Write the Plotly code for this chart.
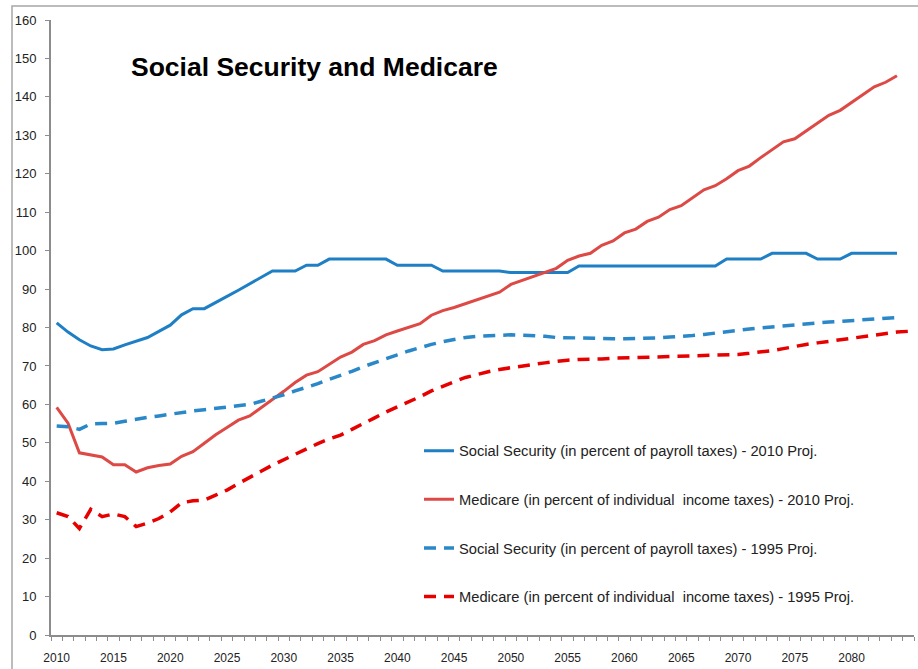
import plotly.graph_objects as go

years_main = list(range(2010, 2085))
years_med95 = list(range(2010, 2086))

ss_2010 = [81.2, 78.8, 76.8, 75.2, 74.2, 74.4, 75.5, 76.4, 77.4, 79.0,
           80.6, 83.3, 84.9, 84.9, 86.6, 88.1, 89.7, 91.3, 93.1, 94.7,
           94.7, 94.7, 96.2, 96.2,
           97.8, 97.8, 97.8, 97.8, 97.8, 97.8,
           96.2, 96.2, 96.2, 96.2,
           94.7, 94.7, 94.7, 94.7, 94.7, 94.7,
           94.3, 94.3, 94.3, 94.3, 94.3, 94.3,
           96.0, 96.0, 96.0, 96.0, 96.0, 96.0, 96.0, 96.0, 96.0, 96.0, 96.0, 96.0, 96.0,
           97.8, 97.8, 97.8, 97.8,
           99.3, 99.3, 99.3, 99.3,
           97.8, 97.8, 97.8,
           99.3, 99.3, 99.3, 99.3, 99.3]

med_2010 = [59.2, 55.1, 47.4, 46.9, 46.3, 44.3, 44.3, 42.4, 43.5, 44.1,
            44.5, 46.5, 47.7, 49.9, 52.1, 54.0, 55.9, 57.0, 59.1, 61.3,
            63.4, 65.7, 67.6, 68.5, 70.5, 72.3, 73.6, 75.6, 76.6, 78.1,
            79.1, 80.0, 81.0, 83.2, 84.4, 85.2, 86.2, 87.2, 88.2, 89.2,
            91.2, 92.2, 93.3, 94.3, 95.4, 97.5, 98.6, 99.3, 101.4, 102.5,
            104.6, 105.6, 107.6, 108.7, 110.7, 111.7, 113.8, 115.8, 116.9, 118.7,
            120.8, 122.0, 124.2, 126.2, 128.3, 129.1, 131.1, 133.1, 135.2, 136.5,
            138.5, 140.6, 142.6, 143.8, 145.5]

ss_1995 = [54.4, 54.2, 53.5, 54.9, 55.0, 55.1, 55.6, 56.2, 56.6, 57.0,
           57.5, 57.9, 58.3, 58.6, 58.9, 59.2, 59.6, 60.0, 60.8, 61.6,
           62.5, 63.5, 64.4, 65.4, 66.5, 67.5, 68.6, 69.8, 70.9, 71.9,
           72.9, 73.9, 74.8, 75.6, 76.3, 76.9, 77.4, 77.7, 77.9, 78.0,
           78.1, 78.0, 77.9, 77.7, 77.4, 77.3, 77.2, 77.1, 77.1, 77.1,
           77.1, 77.1, 77.1, 77.3, 77.5, 77.6, 77.9, 78.2, 78.6, 79.0,
           79.3, 79.6, 79.9, 80.2, 80.5, 80.8, 81.0, 81.2, 81.4, 81.6,
           81.8, 82.0, 82.2, 82.4, 82.6]

med_1995 = [31.8, 30.8, 27.7, 32.7, 30.8, 31.5, 30.8, 28.2, 29.1, 30.3,
            32.0, 34.4, 34.9, 35.1, 36.4, 37.7, 39.4, 40.9, 42.6, 44.2,
            45.6, 47.1, 48.4, 49.8, 51.0, 52.0, 53.5, 54.9, 56.5, 58.0,
            59.3, 60.6, 62.0, 63.5, 64.8, 65.9, 67.0, 67.8, 68.5, 69.1,
            69.6, 70.0, 70.4, 70.8, 71.2, 71.5, 71.7, 71.7, 71.8, 72.0,
            72.1, 72.1, 72.2, 72.4, 72.4, 72.4, 72.5, 72.6, 72.7, 72.9,
            73.0, 73.3, 73.6, 74.0, 74.5, 75.1, 75.6, 76.0, 76.4, 76.8,
            77.2, 77.7, 78.1, 78.5, 78.8, 79.0]

tick_years = list(range(2010, 2085, 5))
y_ticks = list(range(0, 161, 10))

names = [
    "Social Security (in percent of payroll taxes) - 2010 Proj.",
    "Medicare (in percent of individual  income taxes) - 2010 Proj.",
    "Social Security (in percent of payroll taxes) - 1995 Proj.",
    "Medicare (in percent of individual  income taxes) - 1995 Proj.",
]

FONT = "Liberation Sans, Arial, sans-serif"

fig = go.Figure()
fig.add_trace(go.Scatter(x=years_main, y=ss_2010, mode="lines", name=names[0], legendgroup="a",
                         line=dict(color="#1f7fc4", width=3)))
fig.add_trace(go.Scatter(x=years_main, y=med_2010, mode="lines", name=names[1], legendgroup="b",
                         line=dict(color="#dd4a46", width=3)))
fig.add_trace(go.Scatter(x=years_main, y=ss_1995, mode="lines", name=names[2], legendgroup="c",
                         line=dict(color="#2a87c8", width=3.5, dash="12px,8px")))
fig.add_trace(go.Scatter(x=years_med95, y=med_1995, mode="lines", name=names[3], legendgroup="d",
                         line=dict(color="#e60000", width=3.5, dash="12px,8px")))

W, H = 918, 669
ml, mr, mt, mb = 51, 4, 20, 29
pw, ph = W - ml - mr, H - mt - mb

def px(x):
    return (x - ml) / pw

def py(y):
    return (H - mb - y) / ph

fig.update_layout(
    width=W, height=H,
    margin=dict(l=ml, r=mr, t=mt, b=mb, pad=0),
    paper_bgcolor="white", plot_bgcolor="white",
    font=dict(family=FONT, color="#222222"),
    showlegend=True,
    legend=dict(x=px(419), y=py(438), xanchor="left", yanchor="top",
                font=dict(family=FONT, size=14.7, color="#222222"),
                tracegroupgap=26.5, bgcolor="rgba(0,0,0,0)", itemwidth=30),
    xaxis=dict(range=[2009.5, 2085.5], tickmode="array", tickvals=tick_years,
               ticktext=[str(t) for t in tick_years], ticks="", showgrid=False,
               showline=True, linecolor="#8c8c8c", linewidth=1.5, zeroline=False,
               tickfont=dict(family=FONT, size=12, color="#222222"),
               ticklabelstandoff=11,
               minor=dict(tickmode="linear", tick0=2009.5, dtick=1, ticks="outside",
                          ticklen=4, tickcolor="#8c8c8c", tickwidth=1, showgrid=False)),
    yaxis=dict(range=[0, 160], tickmode="array", tickvals=y_ticks, ticks="outside",
               ticklen=4, tickcolor="#8c8c8c", showgrid=False, showline=True,
               linecolor="#8c8c8c", linewidth=2, zeroline=False,
               tickfont=dict(family=FONT, size=13, color="#222222"),
               ticklabelstandoff=6),
    annotations=[dict(text="<b>Social Security and Medicare</b>", x=px(129), y=py(67),
                      xref="paper", yref="paper", xanchor="left", yanchor="middle",
                      showarrow=False, font=dict(family=FONT, size=26.5, color="#000000"))],
    shapes=[dict(type="rect", xref="paper", yref="paper", x0=px(12), y0=-0.2, x1=1.2, y1=py(6),
                 line=dict(color="#a6a6a6", width=1.5), fillcolor="rgba(0,0,0,0)", layer="below")],
)

fig.write_html("out.html")
